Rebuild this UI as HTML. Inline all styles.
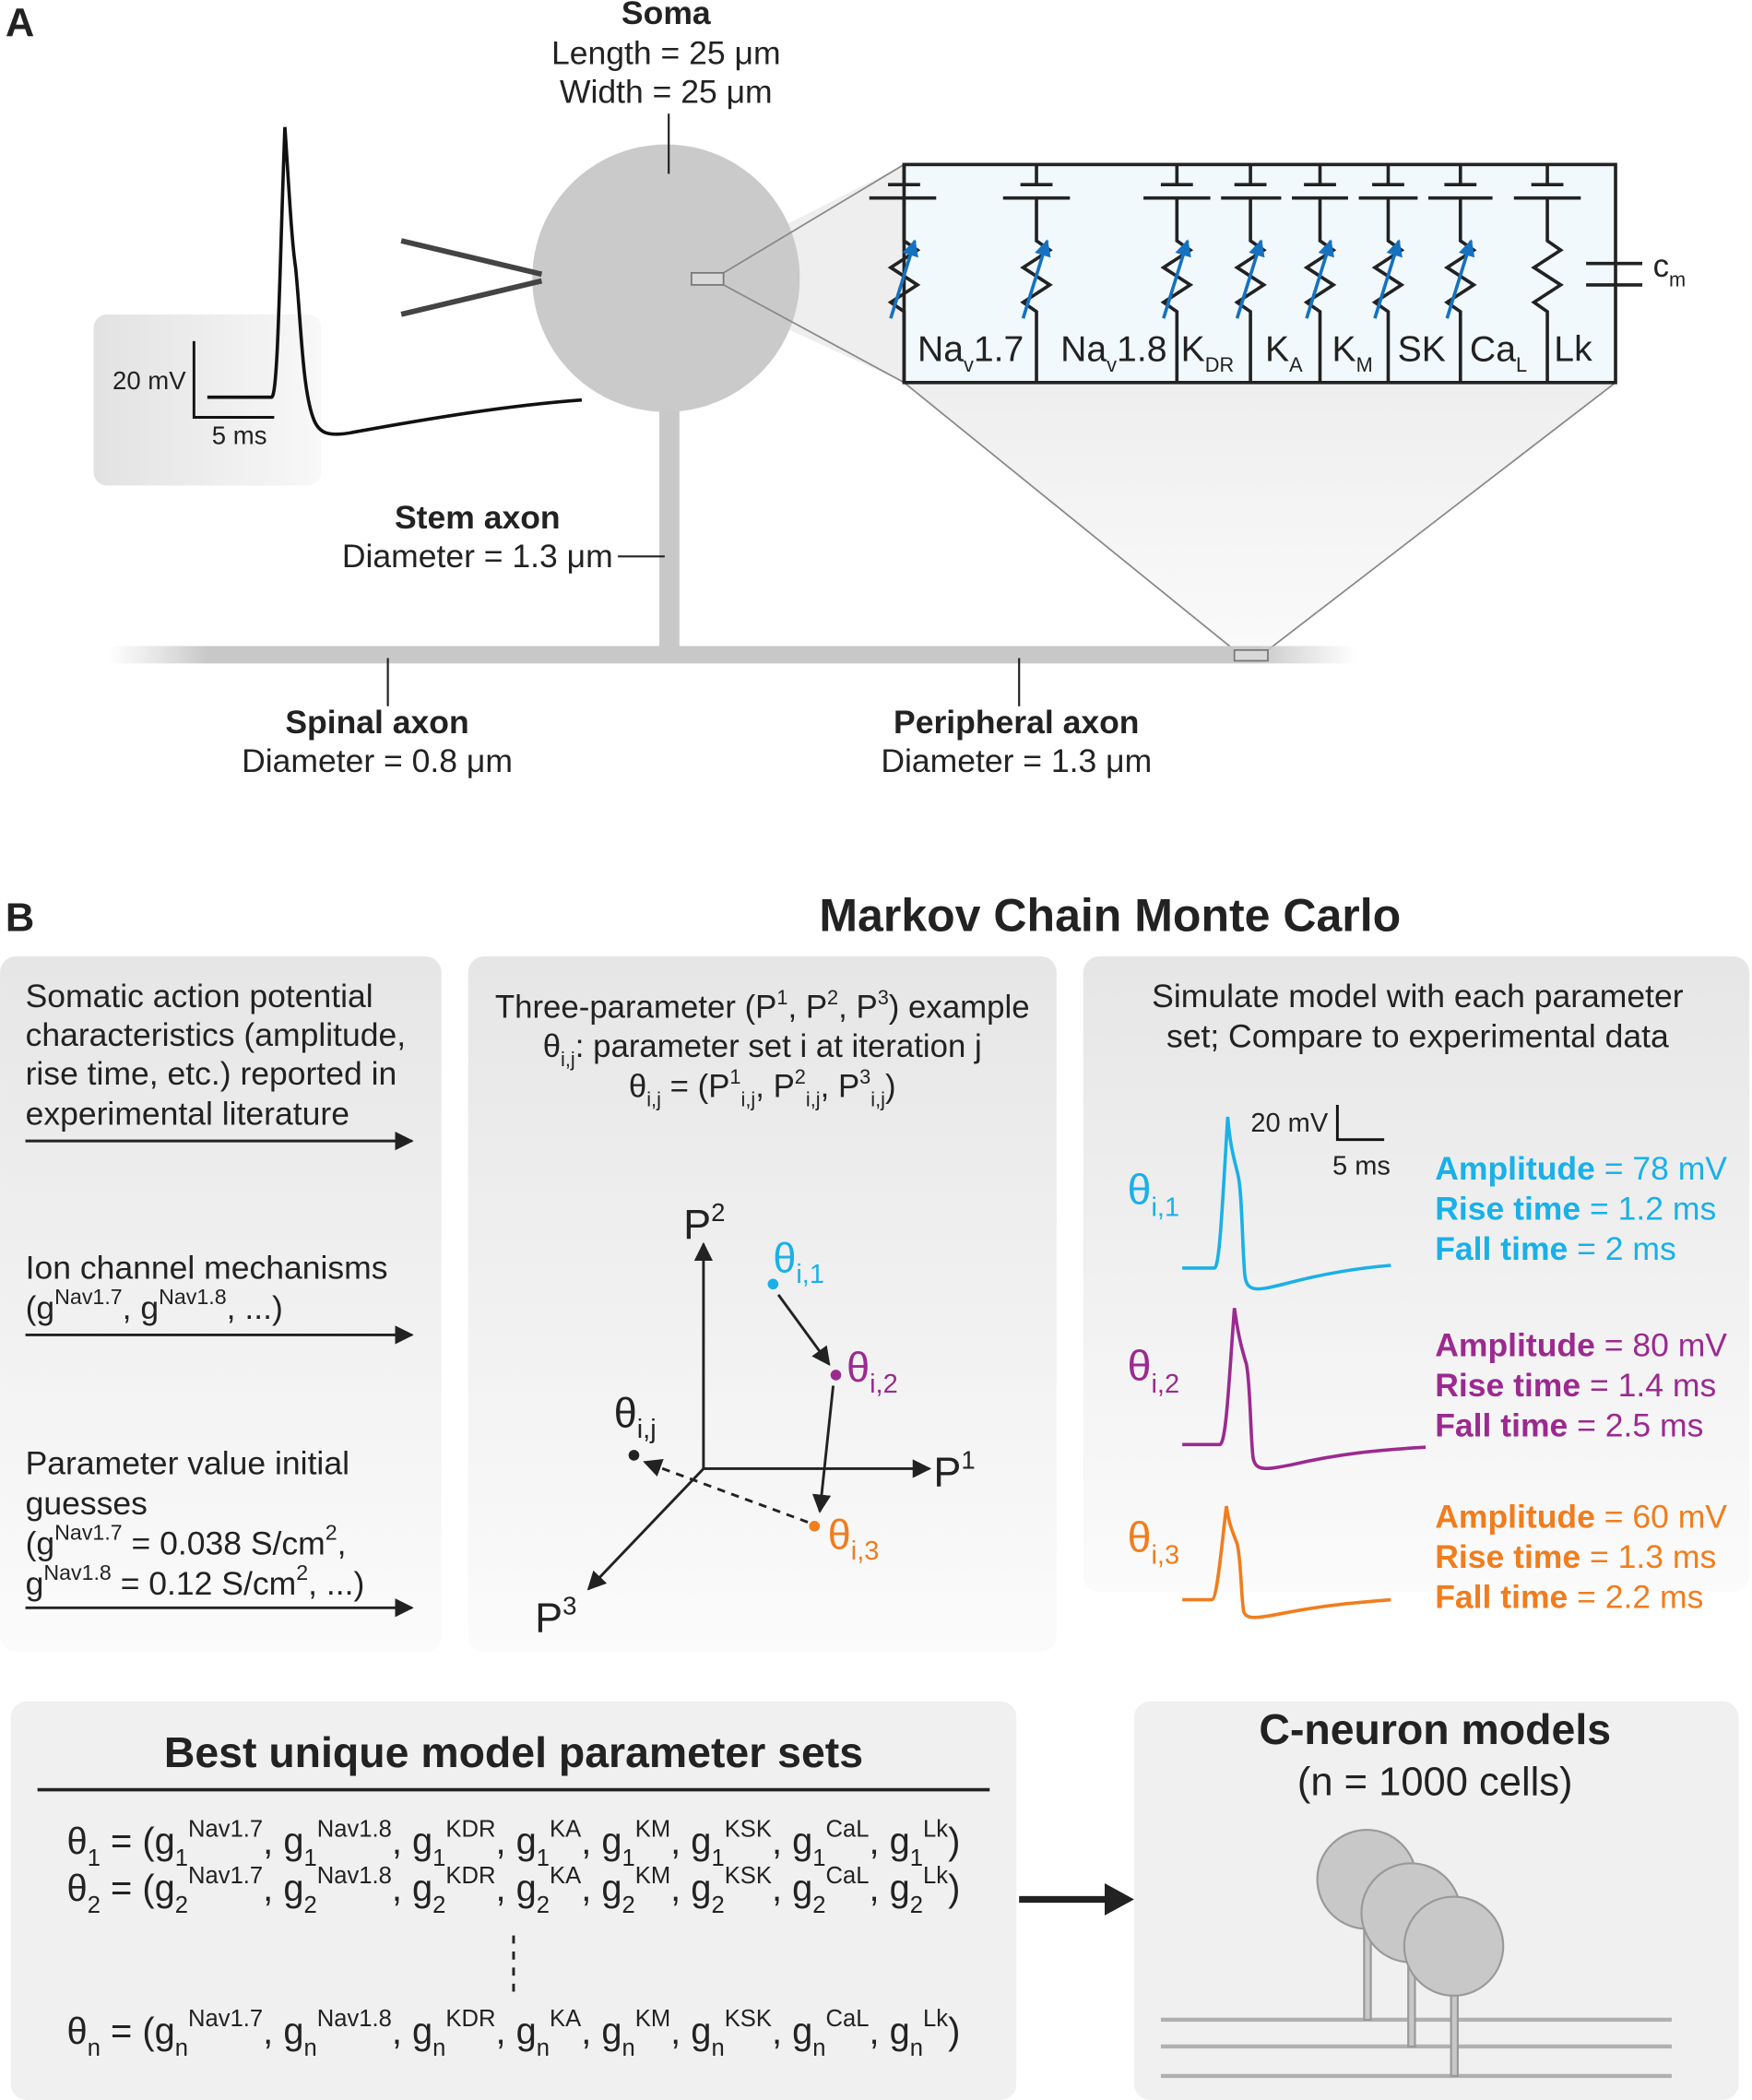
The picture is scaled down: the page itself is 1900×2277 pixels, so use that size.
<!DOCTYPE html>
<html><head><meta charset="utf-8"><style>
html,body{margin:0;padding:0;background:#fff}
svg{display:block}
text{font-family:"Liberation Sans",Arial,sans-serif;fill:#222}
.b{font-weight:bold}
</style></head><body>
<svg width="1900" height="2277" viewBox="0 0 1310 1570" xmlns="http://www.w3.org/2000/svg">
<defs>
<linearGradient id="gb" x1="0" y1="0" x2="0" y2="1"><stop offset="0" stop-color="#e6e6e6"/><stop offset="1" stop-color="#fbfbfb"/></linearGradient>
<linearGradient id="gl" x1="0" y1="0" x2="1" y2="0"><stop offset="0" stop-color="#e2e2e2"/><stop offset="1" stop-color="#f8f8f8"/></linearGradient>
<linearGradient id="ga" x1="0" y1="0" x2="1" y2="0"><stop offset="0" stop-color="#d0d0d0" stop-opacity="0"/><stop offset="0.08" stop-color="#c8c8c8"/><stop offset="0.92" stop-color="#c8c8c8"/><stop offset="1" stop-color="#d0d0d0" stop-opacity="0"/></linearGradient>
<linearGradient id="gf" x1="0" y1="0" x2="0" y2="1"><stop offset="0" stop-color="#eeeeee"/><stop offset="1" stop-color="#fafafa"/></linearGradient>
<marker id="ah" viewBox="0 0 10 10" refX="9" refY="5" markerWidth="7" markerHeight="7" orient="auto"><path d="M0,0L10,5L0,10z" fill="#222"/></marker>
<marker id="bh" viewBox="0 0 10 10" refX="9" refY="5" markerWidth="5" markerHeight="5" orient="auto"><path d="M0,0L10,5L0,10z" fill="#1572c0"/></marker>
</defs>

<!-- PANEL A -->
<text x="4" y="27" class="b" font-size="30">A</text>
<rect x="70" y="235" width="170" height="128" rx="10" fill="url(#gl)"/>
<polygon points="517,204 676,123 676,286 517,213" fill="#eeeeee"/>
<polygon points="676,286 1208,286 948,486 923,486" fill="url(#gf)"/>
<line x1="676" y1="286" x2="923" y2="486" stroke="#888" stroke-width="1.2"/>
<line x1="1208" y1="286" x2="948" y2="486" stroke="#888" stroke-width="1.2"/>
<rect x="80" y="483" width="935" height="13" fill="url(#ga)"/>
<rect x="493" y="300" width="15" height="190" fill="#c8c8c8"/>
<circle cx="498" cy="208" r="100" fill="#cacaca"/>
<line x1="541" y1="204" x2="676" y2="123" stroke="#888" stroke-width="1.2"/>
<line x1="541" y1="213" x2="676" y2="286" stroke="#888" stroke-width="1.2"/>
<rect x="517" y="204" width="24" height="9" fill="#d8d8d8" stroke="#777" stroke-width="1.2"/>
<rect x="923" y="486" width="25" height="8" fill="#d8d8d8" stroke="#777" stroke-width="1.2"/>
<line x1="300" y1="180" x2="405" y2="205" stroke="#444" stroke-width="4"/>
<line x1="300" y1="235" x2="405" y2="210" stroke="#444" stroke-width="4"/>
<path d="M155,297 L203,297 C208,297 209,200 213,95 C216,140 218,180 221,200 C225,240 226,290 234,312 C238,324 245,327 265,323 C320,313 380,303 435,299" fill="none" stroke="#111" stroke-width="2.5"/>
<path d="M145,255 L145,312 L205,312" fill="none" stroke="#111" stroke-width="2"/>
<text x="139" y="291" font-size="19" text-anchor="end">20 mV</text>
<text x="179" y="332" font-size="19" text-anchor="middle">5 ms</text>
<text x="498" y="18" class="b" font-size="24.5" text-anchor="middle">Soma</text>
<text x="498" y="48" font-size="24.5" text-anchor="middle">Length = 25 μm</text>
<text x="498" y="77" font-size="24.5" text-anchor="middle">Width = 25 μm</text>
<line x1="500" y1="85" x2="500" y2="130" stroke="#222" stroke-width="1.5"/>
<text x="357" y="395" class="b" font-size="24.5" text-anchor="middle">Stem axon</text>
<text x="357" y="424" font-size="24.5" text-anchor="middle">Diameter = 1.3 μm</text>
<line x1="462" y1="416" x2="497" y2="416" stroke="#222" stroke-width="1.5"/>
<line x1="290" y1="492" x2="290" y2="528" stroke="#222" stroke-width="1.5"/>
<text x="282" y="548" class="b" font-size="24.5" text-anchor="middle">Spinal axon</text>
<text x="282" y="577" font-size="24.5" text-anchor="middle">Diameter = 0.8 μm</text>
<line x1="762" y1="492" x2="762" y2="528" stroke="#222" stroke-width="1.5"/>
<text x="760" y="548" class="b" font-size="24.5" text-anchor="middle">Peripheral axon</text>
<text x="760" y="577" font-size="24.5" text-anchor="middle">Diameter = 1.3 μm</text>
<!-- circuit -->
<rect x="676" y="123" width="532" height="163" fill="#f2f9fc" stroke="#222" stroke-width="2.5"/>
<g stroke="#222" stroke-width="2.5" fill="none">
<path d="M676,123 V138 M664,138 H688 M650,148 H700 M676,148 V180 l10,7 l-20,13 l20,13 l-20,13 l10,7 V286"/>
<path d="M775,123 V138 M763,138 H787 M750,148 H800 M775,148 V180 l10,7 l-20,13 l20,13 l-20,13 l10,7 V286"/>
<path d="M880,123 V138 M868,138 H892 M855,148 H905 M880,148 V180 l10,7 l-20,13 l20,13 l-20,13 l10,7 V286"/>
<path d="M935,123 V138 M923,138 H947 M913,148 H958 M935,148 V180 l10,7 l-20,13 l20,13 l-20,13 l10,7 V286"/>
<path d="M987,123 V138 M975,138 H999 M966,148 H1008 M987,148 V180 l10,7 l-20,13 l20,13 l-20,13 l10,7 V286"/>
<path d="M1038,123 V138 M1026,138 H1050 M1016,148 H1060 M1038,148 V180 l10,7 l-20,13 l20,13 l-20,13 l10,7 V286"/>
<path d="M1092,123 V138 M1080,138 H1104 M1068,148 H1116 M1092,148 V180 l10,7 l-20,13 l20,13 l-20,13 l10,7 V286"/>
<path d="M1157,123 V138 M1145,138 H1169 M1132,148 H1182 M1157,148 V180 l10,7 l-20,13 l20,13 l-20,13 l10,7 V286"/>
<path d="M1186,197 H1228 M1186,213 H1228"/>
</g>
<g stroke="#1572c0" stroke-width="2.5" marker-end="url(#bh)">
<line x1="666" y1="238" x2="684" y2="180"/><line x1="765" y1="238" x2="783" y2="180"/>
<line x1="870" y1="238" x2="888" y2="180"/><line x1="925" y1="238" x2="943" y2="180"/>
<line x1="977" y1="238" x2="995" y2="180"/><line x1="1028" y1="238" x2="1046" y2="180"/>
<line x1="1082" y1="238" x2="1100" y2="180"/>
</g>
<g font-size="27">
<text x="686" y="270">Na<tspan font-size="15" dy="8">v</tspan><tspan dy="-8">1.7</tspan></text>
<text x="793" y="270">Na<tspan font-size="15" dy="8">v</tspan><tspan dy="-8">1.8</tspan></text>
<text x="883" y="270">K<tspan font-size="15" dy="8">DR</tspan></text>
<text x="946" y="270">K<tspan font-size="15" dy="8">A</tspan></text>
<text x="996" y="270">K<tspan font-size="15" dy="8">M</tspan></text>
<text x="1045" y="270">SK</text>
<text x="1099" y="270">Ca<tspan font-size="15" dy="8">L</tspan></text>
<text x="1162" y="270">Lk</text>
<text x="1236" y="207" font-size="24">c<tspan font-size="15" dy="7">m</tspan></text>
</g>

<!-- PANEL B -->
<text x="4" y="696" class="b" font-size="30">B</text>
<text x="830" y="696" class="b" font-size="34.5" text-anchor="middle">Markov Chain Monte Carlo</text>
<rect x="0" y="715" width="330" height="520" rx="12" fill="url(#gb)"/>
<rect x="350" y="715" width="440" height="520" rx="12" fill="url(#gb)"/>
<rect x="810" y="715" width="498" height="475" rx="12" fill="url(#gb)"/>
<g font-size="24.5">
<text x="19" y="753">Somatic action potential</text>
<text x="19" y="782">characteristics (amplitude,</text>
<text x="19" y="811">rise time, etc.) reported in</text>
<text x="19" y="841">experimental literature</text>
<text x="19" y="956">Ion channel mechanisms</text>
<text x="19" y="986">(g<tspan font-size="16" dy="-11">Nav1.7</tspan><tspan dy="11">, g</tspan><tspan font-size="16" dy="-11">Nav1.8</tspan><tspan dy="11">, ...)</tspan></text>
<text x="19" y="1102">Parameter value initial</text>
<text x="19" y="1132">guesses</text>
<text x="19" y="1162">(g<tspan font-size="16" dy="-11">Nav1.7</tspan><tspan dy="11"> = 0.038 S/cm</tspan><tspan font-size="16" dy="-11">2</tspan><tspan dy="11">,</tspan></text>
<text x="19" y="1192">g<tspan font-size="16" dy="-11">Nav1.8</tspan><tspan dy="11"> = 0.12 S/cm</tspan><tspan font-size="16" dy="-11">2</tspan><tspan dy="11">, ...)</tspan></text>
</g>
<g stroke="#222" stroke-width="2" marker-end="url(#ah)">
<line x1="19" y1="853" x2="308" y2="853"/><line x1="19" y1="998" x2="308" y2="998"/><line x1="19" y1="1202" x2="308" y2="1202"/>
</g>
<g font-size="24" text-anchor="middle">
<text x="570" y="761">Three-parameter (P<tspan font-size="15" dy="-10">1</tspan><tspan dy="10">, P</tspan><tspan font-size="15" dy="-10">2</tspan><tspan dy="10">, P</tspan><tspan font-size="15" dy="-10">3</tspan><tspan dy="10">) example</tspan></text>
<text x="570" y="790">θ<tspan font-size="15" dy="7">i,j</tspan><tspan dy="-7">: parameter set i at iteration j</tspan></text>
<text x="570" y="820">θ<tspan font-size="15" dy="7">i,j</tspan><tspan dy="-7"> = (P</tspan><tspan font-size="15" dy="-10">1</tspan><tspan font-size="15" dy="17">i,j</tspan><tspan dy="-7">, P</tspan><tspan font-size="15" dy="-10">2</tspan><tspan font-size="15" dy="17">i,j</tspan><tspan dy="-7">, P</tspan><tspan font-size="15" dy="-10">3</tspan><tspan font-size="15" dy="17">i,j</tspan><tspan dy="-7">)</tspan></text>
</g>
<g stroke="#222" stroke-width="2" marker-end="url(#ah)">
<line x1="526" y1="1098" x2="526" y2="930"/>
<line x1="526" y1="1098" x2="695" y2="1098"/>
<line x1="526" y1="1098" x2="440" y2="1188"/>
<line x1="582" y1="968" x2="620" y2="1020"/>
<line x1="623" y1="1036" x2="613" y2="1130"/>
<line x1="604" y1="1138" x2="482" y2="1093" stroke-dasharray="6,5"/>
</g>
<text x="511" y="926" font-size="31">P<tspan font-size="19" dy="-13">2</tspan></text>
<text x="698" y="1111" font-size="31">P<tspan font-size="19" dy="-13">1</tspan></text>
<text x="400" y="1220" font-size="31">P<tspan font-size="19" dy="-13">3</tspan></text>
<circle cx="578" cy="960" r="4" fill="#1ab0e8"/>
<circle cx="625" cy="1028" r="4" fill="#9b2a90"/>
<circle cx="609" cy="1141" r="4" fill="#f07d1e"/>
<circle cx="474" cy="1088" r="4" fill="#222"/>
<text x="578" y="951" font-size="31" style="fill:#1ab0e8">θ<tspan font-size="20" dy="8">i,1</tspan></text>
<text x="633" y="1033" font-size="31" style="fill:#9b2a90">θ<tspan font-size="20" dy="8">i,2</tspan></text>
<text x="619" y="1158" font-size="31" style="fill:#f07d1e">θ<tspan font-size="20" dy="8">i,3</tspan></text>
<text x="459" y="1067" font-size="31">θ<tspan font-size="20" dy="8">i,j</tspan></text>
<text x="1060" y="753" font-size="24.5" text-anchor="middle">Simulate model with each parameter</text>
<text x="1060" y="783" font-size="24.5" text-anchor="middle">set; Compare to experimental data</text>
<path d="M1000,826 V852 H1035" fill="none" stroke="#111" stroke-width="2"/>
<text x="993" y="846" font-size="20" text-anchor="end">20 mV</text>
<text x="1018" y="878" font-size="20" text-anchor="middle">5 ms</text>
<path d="M884,948 L908,948 C912,948 914,900 918,835 C920,860 924,870 926,880 C929,895 929,940 931,955 C933,966 940,965 960,960 C990,952 1015,948 1040,946" fill="none" stroke="#1ab0e8" stroke-width="2.5"/>
<path d="M884,1080 L912,1080 C917,1080 919,1030 923,978 C926,1000 929,1010 932,1020 C935,1035 935,1075 937,1090 C939,1100 946,1099 966,1095 C1000,1087 1030,1084 1066,1082" fill="none" stroke="#9b2a90" stroke-width="2.5"/>
<path d="M884,1196 L906,1196 C910,1196 913,1160 917,1126 C919,1140 922,1146 925,1154 C928,1165 928,1195 930,1205 C932,1211 940,1210 960,1206 C990,1200 1015,1198 1040,1196" fill="none" stroke="#f07d1e" stroke-width="2.5"/>
<text x="843" y="900" font-size="32" style="fill:#1ab0e8">θ<tspan font-size="20" dy="9">i,1</tspan></text>
<text x="843" y="1032" font-size="32" style="fill:#9b2a90">θ<tspan font-size="20" dy="9">i,2</tspan></text>
<text x="843" y="1160" font-size="32" style="fill:#f07d1e">θ<tspan font-size="20" dy="9">i,3</tspan></text>
<g font-size="24.5">
<text x="1073" y="882" style="fill:#1ab0e8"><tspan class="b">Amplitude</tspan> = 78 mV</text><text x="1073" y="912" style="fill:#1ab0e8"><tspan class="b">Rise time</tspan> = 1.2 ms</text><text x="1073" y="942" style="fill:#1ab0e8"><tspan class="b">Fall time</tspan> = 2 ms</text>
<text x="1073" y="1014" style="fill:#9b2a90"><tspan class="b">Amplitude</tspan> = 80 mV</text><text x="1073" y="1044" style="fill:#9b2a90"><tspan class="b">Rise time</tspan> = 1.4 ms</text><text x="1073" y="1074" style="fill:#9b2a90"><tspan class="b">Fall time</tspan> = 2.5 ms</text>
<text x="1073" y="1142" style="fill:#f07d1e"><tspan class="b">Amplitude</tspan> = 60 mV</text><text x="1073" y="1172" style="fill:#f07d1e"><tspan class="b">Rise time</tspan> = 1.3 ms</text><text x="1073" y="1202" style="fill:#f07d1e"><tspan class="b">Fall time</tspan> = 2.2 ms</text>
</g>
<!-- bottom -->
<rect x="8" y="1272" width="752" height="298" rx="12" fill="#f0f0f0"/>
<rect x="848" y="1272" width="452" height="298" rx="12" fill="#f0f0f0"/>
<text x="384" y="1321" class="b" font-size="32" text-anchor="middle">Best unique model parameter sets</text>
<line x1="28" y1="1338" x2="740" y2="1338" stroke="#222" stroke-width="2.5"/>
<g font-size="28">
<text x="50" y="1386" textLength="668" lengthAdjust="spacingAndGlyphs">θ<tspan font-size="18" dy="9">1</tspan><tspan dy="-9"> = (g</tspan><tspan font-size="18" dy="9">1</tspan><tspan font-size="18" dy="-22">Nav1.7</tspan><tspan dy="13">, g</tspan><tspan font-size="18" dy="9">1</tspan><tspan font-size="18" dy="-22">Nav1.8</tspan><tspan dy="13">, g</tspan><tspan font-size="18" dy="9">1</tspan><tspan font-size="18" dy="-22">KDR</tspan><tspan dy="13">, g</tspan><tspan font-size="18" dy="9">1</tspan><tspan font-size="18" dy="-22">KA</tspan><tspan dy="13">, g</tspan><tspan font-size="18" dy="9">1</tspan><tspan font-size="18" dy="-22">KM</tspan><tspan dy="13">, g</tspan><tspan font-size="18" dy="9">1</tspan><tspan font-size="18" dy="-22">KSK</tspan><tspan dy="13">, g</tspan><tspan font-size="18" dy="9">1</tspan><tspan font-size="18" dy="-22">CaL</tspan><tspan dy="13">, g</tspan><tspan font-size="18" dy="9">1</tspan><tspan font-size="18" dy="-22">Lk</tspan><tspan dy="13">)</tspan></text>
<text x="50" y="1421" textLength="668" lengthAdjust="spacingAndGlyphs">θ<tspan font-size="18" dy="9">2</tspan><tspan dy="-9"> = (g</tspan><tspan font-size="18" dy="9">2</tspan><tspan font-size="18" dy="-22">Nav1.7</tspan><tspan dy="13">, g</tspan><tspan font-size="18" dy="9">2</tspan><tspan font-size="18" dy="-22">Nav1.8</tspan><tspan dy="13">, g</tspan><tspan font-size="18" dy="9">2</tspan><tspan font-size="18" dy="-22">KDR</tspan><tspan dy="13">, g</tspan><tspan font-size="18" dy="9">2</tspan><tspan font-size="18" dy="-22">KA</tspan><tspan dy="13">, g</tspan><tspan font-size="18" dy="9">2</tspan><tspan font-size="18" dy="-22">KM</tspan><tspan dy="13">, g</tspan><tspan font-size="18" dy="9">2</tspan><tspan font-size="18" dy="-22">KSK</tspan><tspan dy="13">, g</tspan><tspan font-size="18" dy="9">2</tspan><tspan font-size="18" dy="-22">CaL</tspan><tspan dy="13">, g</tspan><tspan font-size="18" dy="9">2</tspan><tspan font-size="18" dy="-22">Lk</tspan><tspan dy="13">)</tspan></text>
<text x="50" y="1528" textLength="668" lengthAdjust="spacingAndGlyphs">θ<tspan font-size="18" dy="9">n</tspan><tspan dy="-9"> = (g</tspan><tspan font-size="18" dy="9">n</tspan><tspan font-size="18" dy="-22">Nav1.7</tspan><tspan dy="13">, g</tspan><tspan font-size="18" dy="9">n</tspan><tspan font-size="18" dy="-22">Nav1.8</tspan><tspan dy="13">, g</tspan><tspan font-size="18" dy="9">n</tspan><tspan font-size="18" dy="-22">KDR</tspan><tspan dy="13">, g</tspan><tspan font-size="18" dy="9">n</tspan><tspan font-size="18" dy="-22">KA</tspan><tspan dy="13">, g</tspan><tspan font-size="18" dy="9">n</tspan><tspan font-size="18" dy="-22">KM</tspan><tspan dy="13">, g</tspan><tspan font-size="18" dy="9">n</tspan><tspan font-size="18" dy="-22">KSK</tspan><tspan dy="13">, g</tspan><tspan font-size="18" dy="9">n</tspan><tspan font-size="18" dy="-22">CaL</tspan><tspan dy="13">, g</tspan><tspan font-size="18" dy="9">n</tspan><tspan font-size="18" dy="-22">Lk</tspan><tspan dy="13">)</tspan></text>
</g>
<line x1="384" y1="1447" x2="384" y2="1490" stroke="#222" stroke-width="2" stroke-dasharray="6,6"/>
<line x1="762" y1="1420" x2="830" y2="1420" stroke="#222" stroke-width="5"/>
<path d="M826,1408 L848,1420 L826,1432z" fill="#222"/>
<text x="1073" y="1304" class="b" font-size="32" text-anchor="middle">C-neuron models</text>
<text x="1073" y="1342" font-size="30" text-anchor="middle">(n = 1000 cells)</text>
<g stroke="#b0b0b0" stroke-width="3">
<line x1="868" y1="1510" x2="1250" y2="1510"/><line x1="868" y1="1530" x2="1250" y2="1530"/><line x1="868" y1="1552" x2="1250" y2="1552"/>
</g>
<g fill="#c8c8c8" stroke="#999" stroke-width="1.5">
<rect x="1020" y="1440" width="5" height="70"/><circle cx="1022" cy="1405" r="37"/>
<rect x="1053" y="1465" width="5" height="65"/><circle cx="1055" cy="1430" r="37"/>
<rect x="1085" y="1490" width="5" height="62"/><circle cx="1087" cy="1455" r="37"/>
</g>
</svg>
</body></html>
